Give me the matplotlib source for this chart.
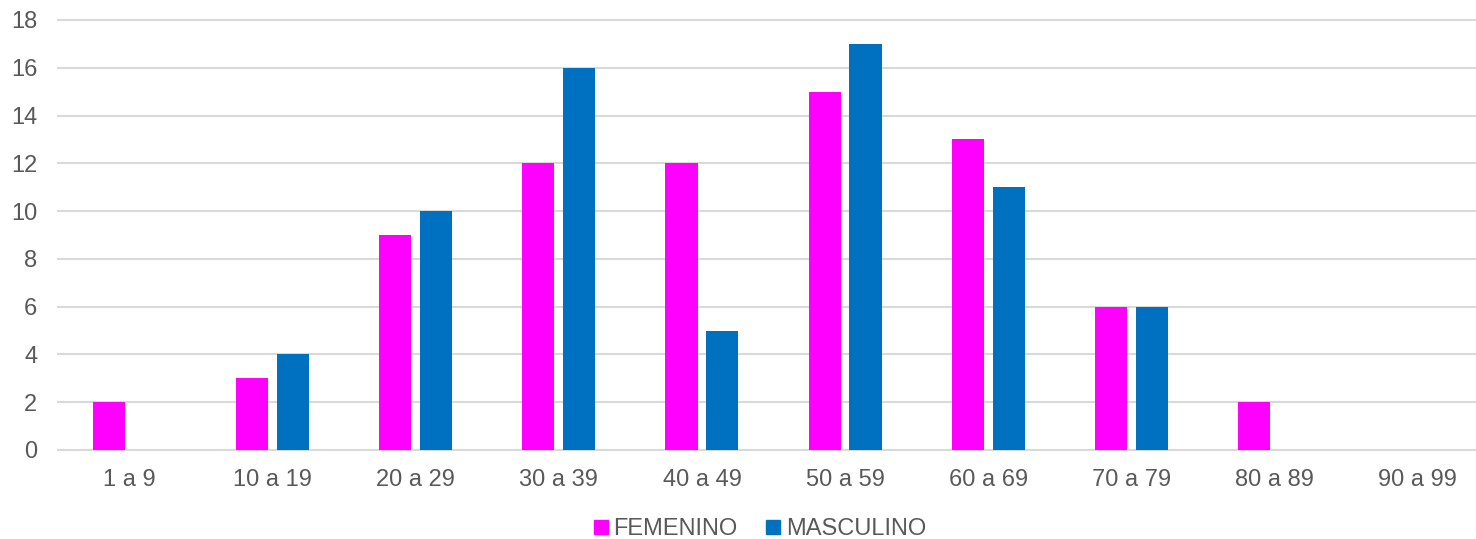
import matplotlib
matplotlib.use("Agg")
import matplotlib.pyplot as plt
from matplotlib.lines import Line2D
import numpy as np

categories = ["1 a 9", "10 a 19", "20 a 29", "30 a 39", "40 a 49",
              "50 a 59", "60 a 69", "70 a 79", "80 a 89", "90 a 99"]
femenino = [2, 3, 9, 12, 12, 15, 13, 6, 2, 0]
masculino = [0, 4, 10, 16, 5, 17, 11, 6, 0, 0]
series_names = ["FEMENINO", "MASCULINO"]
yticks = [0, 2, 4, 6, 8, 10, 12, 14, 16, 18]

PINK = "#FF00FF"
BLUE = "#0070C0"
GRID = "#D9D9D9"
TXT = "#595959"

plt.rcParams['font.family'] = ['Liberation Sans', 'DejaVu Sans']

W, H = 1476, 539
fig = plt.figure(figsize=(W / 100, H / 100), dpi=100)
left = 58 / W
right = 1489 / W
bottom = (H - 450) / H
top = (H - 20) / H
ax = fig.add_axes([left, bottom, right - left, top - bottom])

x = np.arange(len(categories))
bw = 0.224
off = 0.143
ax.bar(x - off, femenino, width=bw, color=PINK, zorder=3)
ax.bar(x + off, masculino, width=bw, color=BLUE, zorder=3)

ax.set_xlim(-0.5, len(categories) - 0.5)
ax.set_ylim(0, 18)
ax.set_yticks(yticks)
ax.set_xticks(x)
ax.set_xticklabels(categories)
ax.yaxis.grid(True, color=GRID, linewidth=1.5, zorder=0)
for gl in ax.get_ygridlines():
    gl.set_clip_on(False)
for s in ax.spines.values():
    s.set_visible(False)
ax.tick_params(axis='both', length=0, labelsize=17, colors=TXT)
ax.tick_params(axis='y', pad=15)
ax.tick_params(axis='x', pad=14)

handles = [Line2D([], [], marker='s', linestyle='none', markersize=9.5, color=PINK),
           Line2D([], [], marker='s', linestyle='none', markersize=9.5, color=BLUE)]
leg = fig.legend(handles, series_names, loc='center', bbox_to_anchor=(760 / W, 1 - 529 / H),
                 ncol=2, frameon=False, fontsize=17, handlelength=0.6, handletextpad=0.25,
                 columnspacing=1.2, borderpad=0)
for t in leg.get_texts():
    t.set_color(TXT)

fig.savefig("out.png", dpi=100)
